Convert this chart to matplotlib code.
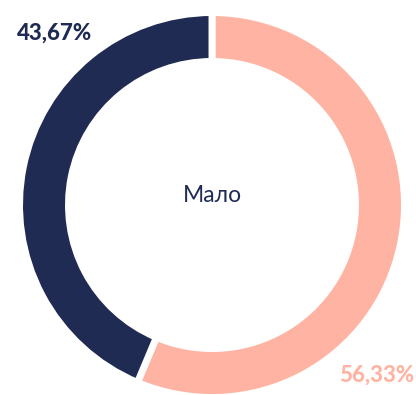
import matplotlib.pyplot as plt

# Share of answers
labels = ['56,33%', '43,67%']
values = [56.33, 43.67]
colors = ['#ffb3a2', '#1f2b53']
center_label = 'Мало'

W, H = 416, 395
fig = plt.figure(figsize=(W / 100, H / 100), dpi=100)
ax = fig.add_axes([0, 0, 1, 1])

gap = 5  # white separator, points
gap_px = gap * 100 / 72
cx, cy = 212, H - 205
r_out, r_in = 189, 147

ax.pie(values, colors=colors, startangle=90, counterclock=False,
       center=(cx, cy), radius=r_out + gap_px / 2,
       wedgeprops=dict(width=r_out - r_in + gap_px, edgecolor='white', linewidth=gap))

ax.set_xlim(0, W)
ax.set_ylim(0, H)
ax.set_aspect('equal')
ax.axis('off')

ax.text(cx, H - 196, center_label, ha='center', va='center',
        fontsize=16.5, color='#1f2b53', family='Lato')
ax.text(17, H - 33, labels[1], ha='left', va='center',
        fontsize=16, fontweight=900, color=colors[1], family='Lato')
ax.text(414, H - 375, labels[0], ha='right', va='center',
        fontsize=16, fontweight=900, color=colors[0], family='Lato')

fig.savefig('out.png', dpi=100)
